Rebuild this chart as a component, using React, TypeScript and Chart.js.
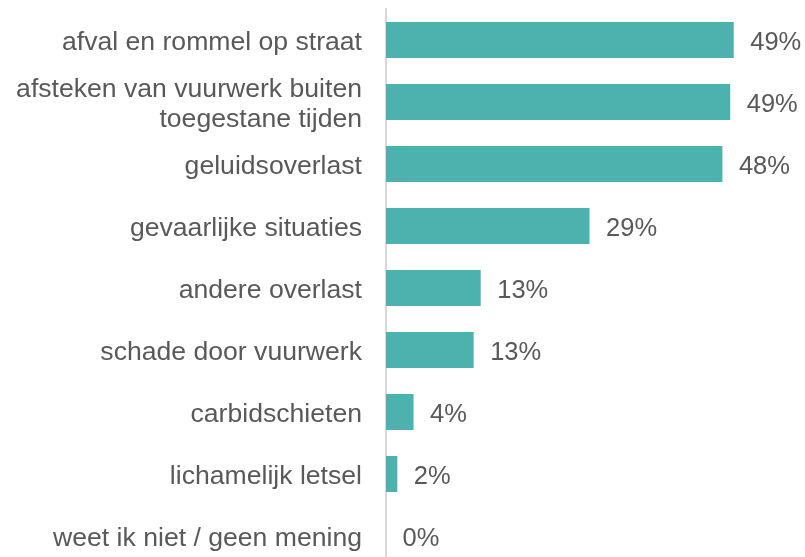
import React, { useEffect, useRef } from "react";
import { Chart, registerables } from "chart.js";

Chart.register(...registerables);

const categories: (string | string[])[] = [
  "afval en rommel op straat",
  ["afsteken van vuurwerk buiten", "toegestane tijden"],
  "geluidsoverlast",
  "gevaarlijke situaties",
  "andere overlast",
  "schade door vuurwerk",
  "carbidschieten",
  "lichamelijk letsel",
  "weet ik niet / geen mening",
];

const values: number[] = [49.2, 48.7, 47.6, 28.8, 13.4, 12.4, 3.9, 1.6, 0];

const valueLabels: string[] = ["49%", "49%", "48%", "29%", "13%", "13%", "4%", "2%", "0%"];

const BAR_COLOR = "#4DB2AD";
const TEXT_COLOR = "#595959";
const FONT = "'Liberation Sans', Arial, sans-serif";

const valueLabelPlugin = {
  id: "valueLabels",
  afterDatasetsDraw(chart: any) {
    const ctx = chart.ctx;
    const meta = chart.getDatasetMeta(0);
    ctx.save();
    ctx.font = `25.5px ${FONT}`;
    ctx.fillStyle = TEXT_COLOR;
    ctx.textAlign = "left";
    ctx.textBaseline = "middle";
    meta.data.forEach((bar: any, i: number) => {
      ctx.fillText(valueLabels[i], bar.x + 16.5, bar.y + 3);
    });
    ctx.restore();
  },
};

export default function App() {
  const ref = useRef<HTMLCanvasElement>(null);
  useEffect(() => {
    if (!ref.current) return;
    const chart = new Chart(ref.current, {
      type: "bar",
      data: {
        labels: categories as any,
        datasets: [
          {
            data: values,
            backgroundColor: BAR_COLOR,
            borderWidth: 0,
            barPercentage: 0.58,
            categoryPercentage: 1,
          },
        ],
      },
      options: {
        indexAxis: "y",
        responsive: false,
        animation: false,
        devicePixelRatio: 1,
        layout: { padding: { left: 0, right: 2, top: 9, bottom: 3 } },
        plugins: {
          legend: { display: false },
          tooltip: { enabled: false },
        },
        scales: {
          x: { display: false, min: 0, max: 59 },
          y: {
            grid: { display: false, drawTicks: false },
            border: { display: true, color: "#D9D9D9", width: 2 },
            ticks: {
              color: TEXT_COLOR,
              font: { size: 26.6, family: FONT, lineHeight: 1.12 },
              padding: 24,
              autoSkip: false,
              labelOffset: 2.5,
            },
            afterFit(scale: any) {
              scale.width = 386;
              scale.paddingTop = 0;
              scale.paddingBottom = 0;
            },
          },
        },
      },
      plugins: [valueLabelPlugin],
    });
    return () => chart.destroy();
  }, []);
  return (
    <div style={{ position: "absolute", left: 0, top: 0, width: 805, height: 557, overflow: "hidden", background: "#fff" }}>
      <canvas ref={ref} width={805} height={570} style={{ width: 805, height: 570, display: "block" }} />
    </div>
  );
}
